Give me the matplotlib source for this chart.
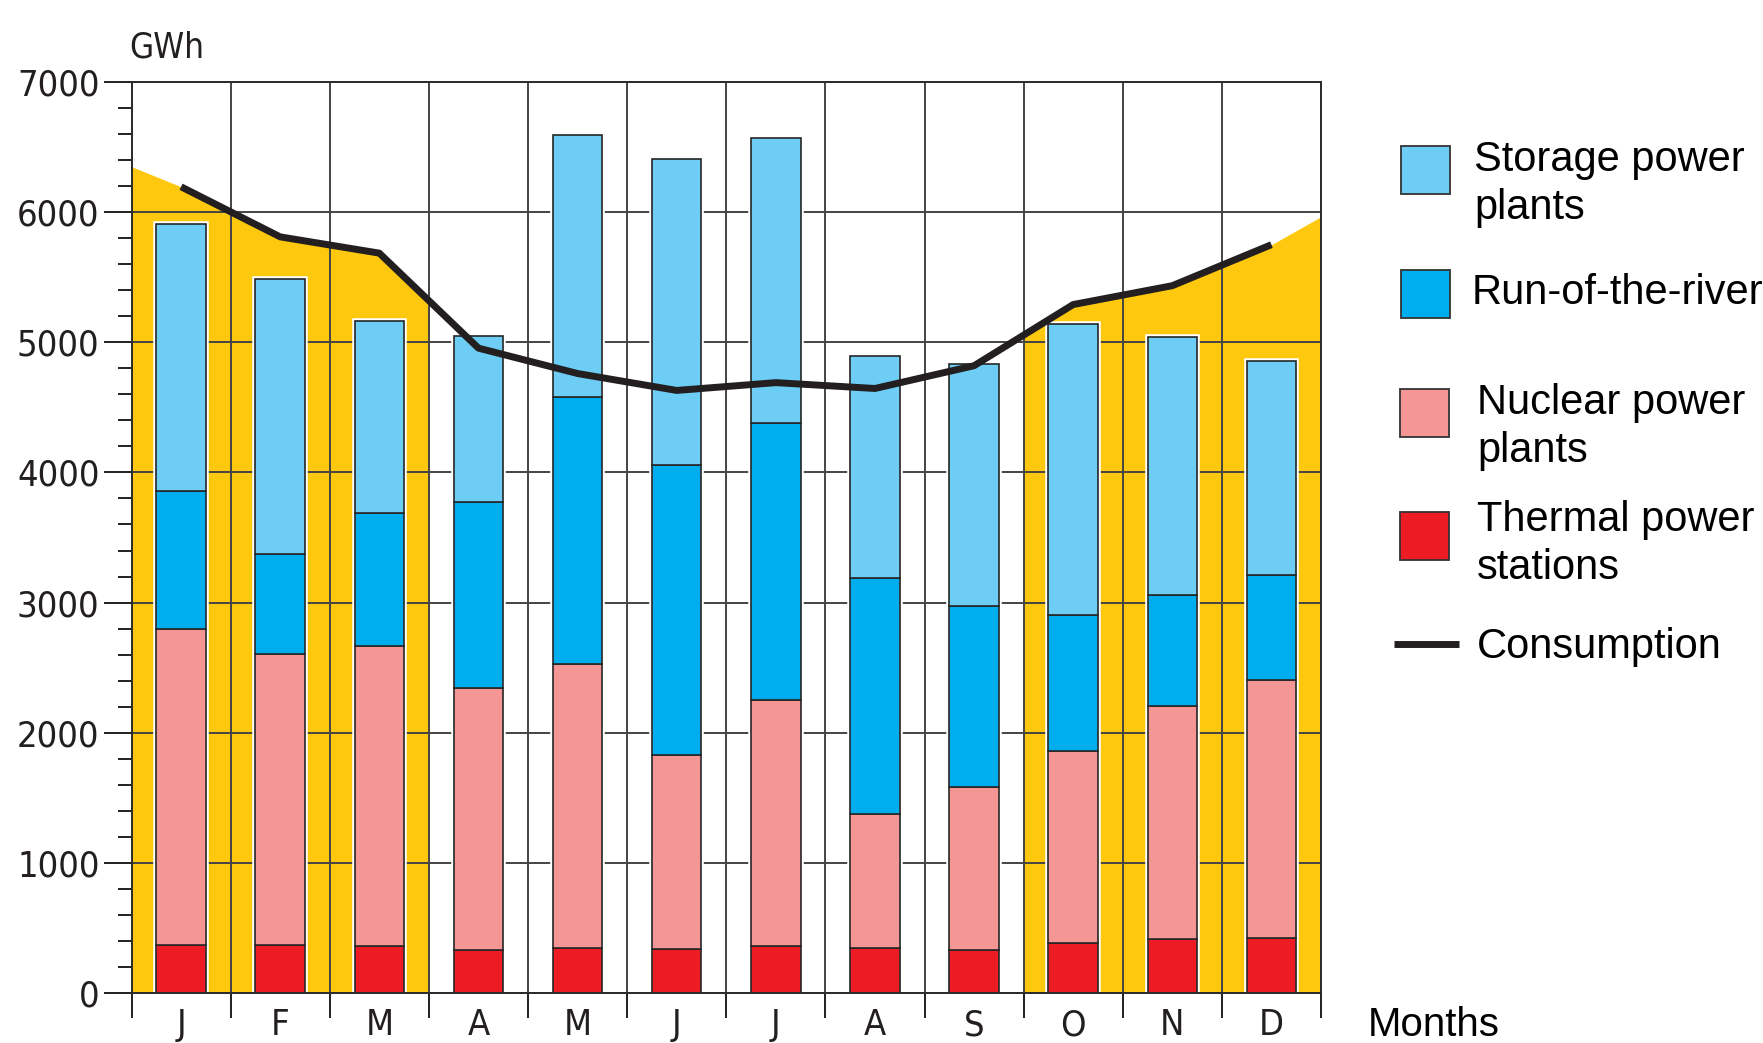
import numpy as np
import matplotlib
matplotlib.use("Agg")
import matplotlib.pyplot as plt
from matplotlib import font_manager
from matplotlib.font_manager import FontProperties
from matplotlib.patches import Rectangle
from matplotlib.lines import Line2D

# Monthly electricity production by source and consumption (GWh)
months = ["J", "F", "M", "A", "M", "J", "J", "A", "S", "O", "N", "D"]
thermal = [370, 370, 360, 330, 345, 335, 360, 345, 330, 385, 415, 420]
nuclear = [2425, 2235, 2305, 2015, 2180, 1490, 1895, 1030, 1255, 1475, 1790, 1985]
run_of_river = [1060, 770, 1020, 1430, 2055, 2235, 2125, 1815, 1390, 1045, 855, 810]
storage = [2055, 2115, 1475, 1275, 2015, 2350, 2190, 1705, 1860, 2235, 1980, 1640]
consumption = [6195, 5810, 5685, 4955, 4760, 4630, 4690, 4645, 4820, 5290, 5435, 5750]
# consumption level at the very start and the very end of the year
consumption_year_start = 6350
consumption_year_end = 5965

series = [
    ("Thermal power\nstations", thermal, "#ED1C24"),
    ("Nuclear power\nplants", nuclear, "#F39694"),
    ("Run-of-the-river", run_of_river, "#00ADEE"),
    ("Storage power\nplants", storage, "#6DCDF5"),
]
import_colour = "#FEC80E"
line_colour = "#231F20"
grid_colour = "#444444"

W, H = 1763, 1043

# axis labels use a narrow face when one is installed
available = {f.name for f in font_manager.fontManager.ttflist}
wide = "Liberation Sans" if "Liberation Sans" in available else "DejaVu Sans"
narrow_file = None
for f in font_manager.fontManager.ttflist:
    key = (f.name + " " + f.fname).lower()
    is_narrow = ("narrow" in key or "condensed" in key
                 or f.stretch in ("condensed", "semi-condensed"))
    if is_narrow and f.style == "normal" and f.weight in (400, "normal", "regular"):
        if "bold" not in key and "light" not in key:
            narrow_file = f.fname
            break
if narrow_file:
    def axis_font(size):
        return FontProperties(fname=narrow_file, size=size)
    tick_size = 26
else:
    def axis_font(size):
        return FontProperties(family=wide, size=size)
    tick_size = 23

fig = plt.figure(figsize=(W / 100, H / 100), dpi=100)
ax = fig.add_axes([131.5 / W, 1 - 993 / H, (1321 - 131.5) / W, (993 - 82) / H])

centers = np.arange(len(months)) + 0.5
ax.set_xlim(0, len(months))
ax.set_ylim(0, 7000)

# shaded area for months where consumption exceeds domestic production
production = np.sum([s[1] for s in series], axis=0)
cons = np.array(consumption)
need_import = cons > production
ext_x = np.concatenate([[0], centers, [len(months)]])
ext_y = np.concatenate([[consumption_year_start], cons, [consumption_year_end]])
i = 0
while i < len(months):
    if need_import[i]:
        j = i
        while j + 1 < len(months) and need_import[j + 1]:
            j += 1
        xs = np.arange(2 * i, 2 * (j + 1) + 1) / 2.0
        ax.fill_between(xs, 0, np.interp(xs, ext_x, ext_y), color=import_colour,
                        lw=0, zorder=0.3)
        i = j + 1
    else:
        i += 1

# stacked bars with a thin white halo
bar_w = 0.5
ax.bar(centers, production, width=bar_w, color="white", edgecolor="white",
       lw=4, zorder=1.8)
bottom = np.zeros(len(months))
for label, vals, colour in series:
    ax.bar(centers, vals, width=bar_w, bottom=bottom, color=colour,
           edgecolor="#262626", lw=1.2, zorder=2)
    bottom += np.array(vals)

# consumption line
ax.plot(centers, cons, color=line_colour, lw=5, solid_capstyle="butt",
        solid_joinstyle="round", zorder=3)

# axes, ticks and grid
ax.set_yticks(np.arange(0, 7001, 1000))
ax.set_yticks(np.arange(0, 7001, 200), minor=True)
ax.set_xticks(centers)
ax.set_xticklabels(months)
ax.set_xticks(np.arange(len(months) + 1), minor=True)
ax.tick_params(axis="y", which="major", direction="out", length=20, width=1.4,
               pad=3, colors=line_colour)
ax.tick_params(axis="y", which="minor", direction="out", length=10, width=1.4,
               colors=line_colour)
ax.tick_params(axis="x", which="major", length=0, pad=11, colors=line_colour)
ax.tick_params(axis="x", which="minor", direction="out", length=18, width=1.4,
               colors=line_colour)
for lab in ax.get_yticklabels():
    lab.set_fontproperties(axis_font(tick_size))
for lab in ax.get_xticklabels():
    lab.set_fontproperties(axis_font(tick_size))
ax.set_axisbelow(True)
ax.grid(True, axis="y", which="major", color=grid_colour, lw=1.4)
ax.grid(True, axis="x", which="minor", color=grid_colour, lw=1.4)
for side, sp in ax.spines.items():
    sp.set_color("#2b2b2b")
    sp.set_linewidth(1.4)

fig.text(129 / W, 1 - 58 / H, "GWh", fontproperties=axis_font(tick_size - 1),
         color=line_colour, ha="left", va="baseline")
fig.text(1368 / W, 1 - 1036 / H, "Months", family=wide, size=29, color="black",
         ha="left", va="baseline")

# legend, drawn in figure pixels
def fx(px):
    return px / W

def fy(py):
    return 1 - py / H

legend_rows = [
    (series[3], 1401, 146, 1474, [171, 219]),
    (series[2], 1401, 270, 1472, [304]),
    (series[1], 1400, 389, 1477, [414, 462]),
    (series[0], 1400, 512, 1477, [531, 579]),
]
for (label, _, colour), x0, y0, tx, baselines in legend_rows:
    fig.add_artist(Rectangle((fx(x0), fy(y0 + 48)), 49 / W, 48 / H,
                             transform=fig.transFigure, facecolor=colour,
                             edgecolor="#333333", lw=1.3))
    for line_text, base in zip(label.split("\n"), baselines):
        fig.text(fx(tx), fy(base), line_text, family=wide, size=30,
                 color="black", ha="left", va="baseline")

fig.add_artist(Line2D([fx(1394), fx(1459)], [fy(644), fy(644)],
                      transform=fig.transFigure, color=line_colour, lw=5,
                      solid_capstyle="butt"))
fig.text(fx(1477), fy(658), "Consumption", family=wide, size=30, color="black",
         ha="left", va="baseline")

fig.savefig("out.png", dpi=100)
